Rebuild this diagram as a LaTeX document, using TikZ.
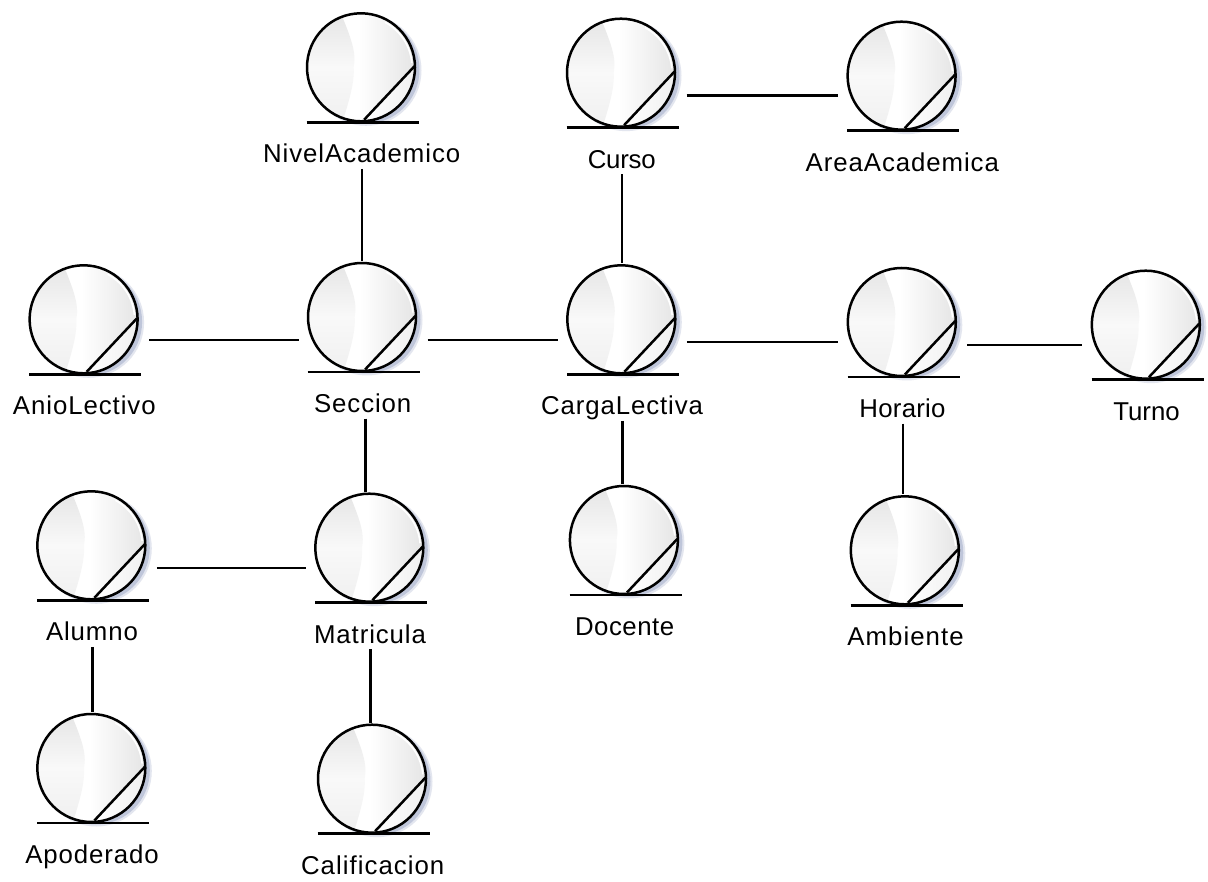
\documentclass[tikz,border=0pt]{standalone}
\usepackage{fontspec}
\setmainfont{Liberation Sans}
\definecolor{shadowblue}{HTML}{BFC6DA}
\definecolor{shadowpale}{HTML}{E3E6EF}
\definecolor{sheenlight}{HTML}{F9F9F9}
\definecolor{sheenmid}{HTML}{EFEFEF}
\definecolor{sheendark}{HTML}{E4E4E4}
\tikzset{
  entitybox/.style={rectangle,minimum width=129pt,minimum height=157.6pt,inner sep=0pt,outer sep=0pt},
  entitylabel/.style={anchor=base,inner sep=0pt,font=\fontsize{25.8}{28}\selectfont},
  stroke/.style={draw=black,line width=2.5pt},
  assoc/.style={draw=black,line width=2.4pt}
}
% #1 name, #2 printed text, #3 left x, #4 base line y, #5 letter spacing
\newcommand{\entity}[5]{%
  \begin{scope}[shift={(#3,#4)}]
    \node[entitybox] (#1) at (55.3,-32.2) {};
    \fill[shadowpale] (59.3,-52) circle (55.5);
    \fill[shadowblue] (58.8,-52.5) circle (54);
    \begin{scope}
      \clip (54.3,-55) circle (54);
      \fill[white] (-2,-112) rectangle (112,2);
      \shade[left color=white,right color=sheendark] (52,-112) rectangle (110,2);
      \shade[top color=sheendark,bottom color=sheenmid,middle color=sheenlight]
        (-2,-112) -- (33,-112) .. controls (44,-85) and (50,-70) .. (47,-55)
        .. controls (48,-40) and (42,-20) .. (35,2) -- (-2,2) -- cycle;
      \shade[left color=white,right color=sheenmid] (57.4,-3) -- (107.7,-56) -- (110,2) -- cycle;
      \draw[white,line width=1.6pt] (54.3,-55) ++(-62:51) arc (-62:-5:51);
    \end{scope}
    \draw[stroke] (54.3,-55) circle (54);
    \draw[stroke] (57.4,-2.5) -- (107.7,-56);
    \draw[stroke] (0,0) -- (112,0);
    \node[entitylabel] (#1-label) at (55,40.5) {\addfontfeature{LetterSpace=#5}#2};
  \end{scope}%
}
\begin{document}
\begin{tikzpicture}[x=1pt,y=-1pt]
  \useasboundingbox (0,0) rectangle (1208,882);
  \fill[white] (0,0) rectangle (1208,882);
  \entity{nivel}{NivelAcademico}{306.7}{122.3}{3.6}
  \entity{curso}{Curso}{566.7}{127.7}{-1}
  \entity{area}{AreaAcademica}{847.3}{130.7}{3.6}
  \entity{anio}{AnioLectivo}{29.3}{374.3}{3.6}
  \entity{seccion}{Seccion}{307.7}{372}{3.5}
  \entity{carga}{CargaLectiva}{567}{374.3}{3.5}
  \entity{horario}{Horario}{847.5}{377}{1}
  \entity{turno}{Turno}{1091.5}{379.7}{0}
  \entity{docente}{Docente}{569.6}{595}{2}
  \entity{ambiente}{Ambiente}{850.5}{605.3}{4}
  \entity{alumno}{Alumno}{37}{600.3}{3.5}
  \entity{matricula}{Matricula}{315}{602.7}{3.5}
  \entity{apoderado}{Apoderado}{37}{823}{3.5}
  \entity{calificacion}{Calificacion}{317.7}{833.7}{4}
  \path ([xshift=2.3pt]seccion.south) coordinate (secmat);
  \draw[assoc] (nivel.south) -- (nivel.south |- seccion.north);
  \draw[assoc] (curso.south) -- (curso.south |- carga.north);
  \draw[assoc] (curso.east) -- (curso.east -| area.west);
  \draw[assoc] (seccion.west -| anio.east) -- (seccion.west);
  \draw[assoc] (seccion.east) -- (seccion.east -| carga.west);
  \draw[assoc] (carga.east) -- (carga.east -| horario.west);
  \draw[assoc] (horario.east) -- (horario.east -| turno.west);
  \draw[assoc] (secmat) -- (secmat |- matricula.north);
  \draw[assoc] (carga.south) -- (carga.south |- docente.north);
  \draw[assoc] (horario.south) -- (horario.south |- ambiente.north);
  \draw[assoc] (alumno.east) -- (alumno.east -| matricula.west);
  \draw[assoc] (alumno.south) -- (alumno.south |- apoderado.north);
  \draw[assoc] (matricula.south) -- (matricula.south |- calificacion.north);
\end{tikzpicture}
\end{document}
